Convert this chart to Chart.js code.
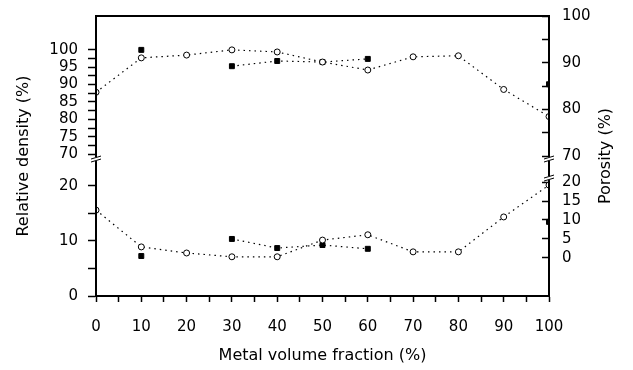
<!DOCTYPE html>
<html>
<head>
<meta charset="utf-8">
<script src="https://cdn.jsdelivr.net/npm/chart.js@4.4.1/dist/chart.umd.min.js"></script>
<style>
html, body { margin: 0; padding: 0; background: #fff; }
canvas { display: block; }
</style>
</head>
<body>
<canvas id="chart" width="633" height="370"></canvas>
<script>
const metalFraction = [0, 10, 20, 30, 40, 50, 60, 70, 80, 90, 100];
// relative density (%) - left axis, upper band
const densityOpen = [87.8, 97.7, 98.5, 100, 99.4, 96.5, 94.2, 98, 98.3, 88.6, 80.8];
const densityFilled = [null, 100, null, 95.3, 96.8, 96.5, 97.4, null, null, null, 90.1];
// porosity (%) - right axis, lower band
const porosityOpen = [12.6, 2.9, 1.3, 0.3, 0.3, 4.7, 6.1, 1.6, 1.6, 10.8, 19.2];
const porosityFilled = [null, 0.5, null, 5, 2.6, 3.4, 2.4, null, null, null, 9.5];

const densityTicks = [0, 5, 10, 15, 20, 70, 72.5, 75, 77.5, 80, 82.5, 85, 87.5, 90, 92.5, 95, 97.5, 100];
const densityLabels = [0, 10, 20, 70, 75, 80, 85, 90, 95, 100];
const porosityTicks = [0, 5, 10, 15, 20, 70, 75, 80, 85, 90, 95, 100];
const porosityLabels = [0, 5, 10, 15, 20, 70, 80, 90, 100];

// axis with a gap: [from, to, fracStart, fracEnd] of the plot height
const densitySegments = [[0, 20, 0, 0.393], [70, 100, 0.507, 0.879]];
const porositySegments = [[0, 20, 0.136, 0.407], [70, 100, 0.5, 1.0]];

class BrokenScale extends Chart.LinearScale {
  buildTicks() {
    return this.options.tickValues.map(v => ({ value: v }));
  }
  getPixelForValue(value) {
    if (value === null || value === undefined) return NaN;
    const segs = this.options.segments;
    let s = segs[segs.length - 1];
    for (const g of segs) { if (value <= g[1]) { s = g; break; } }
    const frac = s[2] + (value - s[0]) / (s[1] - s[0]) * (s[3] - s[2]);
    return this.bottom - frac * (this.bottom - this.top);
  }
  getValueForPixel(pixel) {
    const frac = (this.bottom - pixel) / (this.bottom - this.top);
    const segs = this.options.segments;
    let s = segs[segs.length - 1];
    for (const g of segs) { if (frac <= g[3]) { s = g; break; } }
    return s[0] + (frac - s[2]) / (s[3] - s[2]) * (s[1] - s[0]);
  }
}
BrokenScale.id = 'broken';
BrokenScale.defaults = {};
Chart.register(BrokenScale);

const pts = arr => metalFraction.map((x, i) => ({ x: x, y: arr[i] }));

const openStyle = {
  showLine: true, borderColor: '#000', borderWidth: 1.2, borderDash: [1.5, 4],
  pointStyle: 'circle', pointRadius: 3, pointBackgroundColor: '#fff',
  pointBorderColor: '#000', pointBorderWidth: 1, spanGaps: false,
};
const filledStyle = {
  showLine: true, borderColor: '#000', borderWidth: 1.2, borderDash: [1.5, 4],
  pointStyle: 'rect', pointRadius: 3.5, pointBackgroundColor: '#000',
  pointBorderColor: '#000', pointBorderWidth: 1, spanGaps: false,
};

const tickFont = { family: 'DejaVu Sans', size: 15 };
const titleFont = { family: 'DejaVu Sans', size: 16 };

const noPad = s => { s.paddingTop = 0; s.paddingBottom = 0; s.paddingLeft = 0; s.paddingRight = 0; };

const extras = {
  id: 'extras',
  afterDraw(chart) {
    const { ctx, chartArea: a } = chart;
    ctx.save();
    ctx.strokeStyle = '#000';
    ctx.lineWidth = 2;
    ctx.strokeRect(a.left, a.top, a.right - a.left, a.bottom - a.top);

    // axis break marks
    const brk = (x, y) => {
      ctx.fillStyle = '#fff';
      ctx.fillRect(x - 2, y - 1, 4, 4);
      ctx.lineWidth = 1;
      ctx.beginPath();
      ctx.moveTo(x - 5, y + 1); ctx.lineTo(x + 5, y - 2);
      ctx.moveTo(x - 5, y + 4); ctx.lineTo(x + 5, y + 1);
      ctx.stroke();
    };
    const yl = chart.scales.y, yr = chart.scales.y2;
    brk(a.left, yl.getPixelForValue(70) + 4);
    brk(a.right, yr.getPixelForValue(70) + 2);
    brk(a.right, yr.getPixelForValue(20) - 5);

    ctx.translate(606, (a.top + a.bottom) / 2);
    ctx.rotate(-Math.PI / 2);
    ctx.fillStyle = '#000';
    ctx.font = '16px "DejaVu Sans"';
    ctx.textAlign = 'center';
    ctx.textBaseline = 'middle';
    ctx.fillText('Porosity (%)', 0, 0);
    ctx.restore();
  }
};

new Chart(document.getElementById('chart').getContext('2d'), {
  type: 'scatter',
  data: {
    datasets: [
      Object.assign({ label: 'Relative density', data: pts(densityOpen), yAxisID: 'y' }, openStyle),
      Object.assign({ label: 'Relative density', data: pts(densityFilled), yAxisID: 'y' }, filledStyle),
      Object.assign({ label: 'Porosity', data: pts(porosityOpen), yAxisID: 'y2' }, openStyle),
      Object.assign({ label: 'Porosity', data: pts(porosityFilled), yAxisID: 'y2' }, filledStyle),
    ],
  },
  options: {
    responsive: false,
    animation: false,
    layout: { padding: { top: 16, left: 0, right: 0, bottom: 0 } },
    plugins: { legend: { display: false }, tooltip: { enabled: false } },
    scales: {
      x: {
        type: 'linear', min: 0, max: 100,
        afterFit: s => { s.height = 74; noPad(s); },
        border: { color: '#000', width: 2 },
        grid: { drawOnChartArea: false, tickLength: 6, tickColor: '#000', tickWidth: 1.5 },
        ticks: {
          stepSize: 5, autoSkip: false, maxRotation: 0, padding: 16,
          color: '#000', font: tickFont,
          callback: v => (v % 10 === 0 ? String(v) : ''),
        },
        title: { display: true, text: 'Metal volume fraction (%)', color: '#000', font: titleFont, padding: { bottom: 5 } },
      },
      y: {
        type: 'broken', position: 'left', min: 0, max: 100,
        segments: densitySegments, tickValues: densityTicks,
        afterFit: s => { s.width = 96; noPad(s); },
        border: { color: '#000', width: 2 },
        grid: { drawOnChartArea: false, tickLength: 8, tickColor: '#000', tickWidth: 1.5 },
        ticks: {
          autoSkip: false, padding: 10, color: '#000', font: tickFont,
          callback: v => (densityLabels.includes(v) ? String(v) : ''),
        },
        title: { display: true, text: 'Relative density (%)', color: '#000', font: titleFont, padding: { top: 14 } },
      },
      y2: {
        type: 'broken', position: 'right', min: 0, max: 100,
        segments: porositySegments, tickValues: porosityTicks,
        afterFit: s => { s.width = 84; noPad(s); },
        border: { color: '#000', width: 2 },
        grid: { drawOnChartArea: false, tickLength: -7, tickColor: '#000', tickWidth: 1.5 },
        ticks: {
          autoSkip: false, padding: 20, color: '#000', font: tickFont,
          callback: v => (porosityLabels.includes(v) ? String(v) : ''),
        },
      },
    },
  },
  plugins: [extras],
});
</script>
</body>
</html>
